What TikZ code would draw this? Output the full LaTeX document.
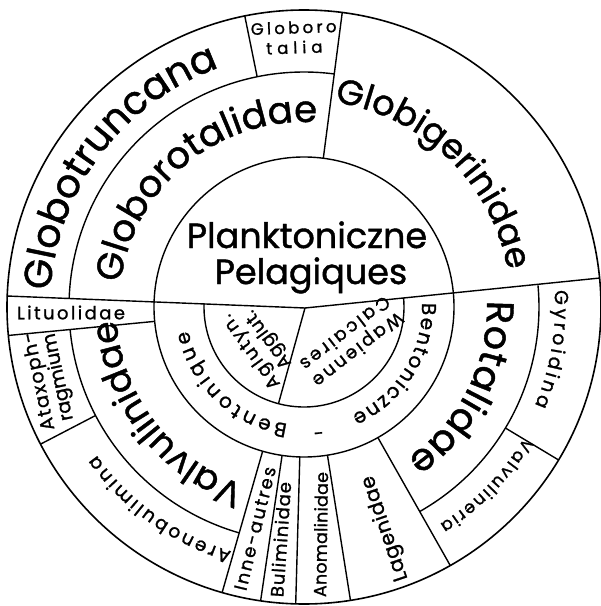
\documentclass[tikz,border=0pt]{standalone}
\usepackage{fontspec}
\setmainfont{Poppins}[FakeBold=1.2]
\usetikzlibrary{decorations.text}
\newcommand{\fsz}[1]{\fontsize{#1}{#1}\selectfont}
\newcommand{\fszl}[2]{\fontsize{#1}{#2}\selectfont}
\tikzset{
  ln/.style={line width=1.4pt, line join=round},
  lbl/.style n args={2}{decorate, decoration={text along path, text align={fit to path}, raise=#2, text={#1}}},
  plain/.style={inner sep=0pt, align=center}
}
\begin{document}
\begin{tikzpicture}[x=1pt,y=1pt]
\useasboundingbox (-304,-299) rectangle (297,307);
% structure
\coordinate (O) at (0,0);
\coordinate (K) at (1,-1);
\coordinate (DL) at (-297,11);
\coordinate (DR) at (296,29);
\draw[ln, line width=1.6pt] (O) circle[radius=297pt];
\draw[ln] (O) circle[radius=150pt];
\draw[ln] (178:100pt) arc[start angle=178, end angle=365.3, radius=100pt];
\draw[ln] (82.6:235pt) arc[start angle=82.6, end angle=178, radius=235pt];
\draw[ln] (185.5:235pt) arc[start angle=185.5, end angle=254, radius=235pt];
\draw[ln] (299.5:235pt) arc[start angle=299.5, end angle=365.3, radius=235pt];
\draw[ln] (DL) -- (K) -- (DR);
\draw[ln] (K) -- (255.2:100pt);
\draw[ln] (101.5:235pt) -- (101.5:297pt);
\draw[ln] (82.6:150pt) -- (82.6:297pt);
\draw[ln] (185.5:150pt) -- (185.5:297pt);
\draw[ln] (207.5:235pt) -- (207.5:297pt);
\draw[ln] (254:150pt) -- (254:297pt);
\draw[ln] (261.6:150pt) -- (261.6:297pt);
\draw[ln] (268.4:150pt) -- (268.4:297pt);
\draw[ln] (279:150pt) -- (279:297pt);
\draw[ln] (299.5:150pt) -- (299.5:297pt);
\draw[ln] (329:235pt) -- (329:297pt);
% curved labels
\path[lbl={|\fsz{39}|Globotruncana}{0pt}] (176.3:254pt) arc[start angle=176.3, end angle=109.7, radius=254pt];
\path[lbl={|\fsz{37}|Globorotalidae}{0pt}] (172.5:185pt) arc[start angle=172.5, end angle=86, radius=185pt];
\path[lbl={|\fsz{35}|Globigerinidae}{0pt}] (81.5:207pt) arc[start angle=81.5, end angle=11.8, radius=207pt];
\path[lbl={|\fsz{36}|Valvulinidae}{0pt}] (251.5:188pt) arc[start angle=251.5, end angle=186, radius=188pt];
\path[lbl={|\fsz{38}|Rotalidae}{0pt}] (2:183pt) arc[start angle=2, end angle=-55.7, radius=183pt];
\path[lbl={|\fsz{19}|Gyroidina}{0pt}] (3.8:251pt) arc[start angle=3.8, end angle=-23.1, radius=251pt];
\path[lbl={|\fsz{17}|Valvulineria}{0pt}] (329.3:256pt) arc[start angle=329.3, end angle=302, radius=256pt];
\path[lbl={|\fsz{18.5}|Arenobulimina}{0pt}] (253.5:255pt) arc[start angle=253.5, end angle=215.5, radius=255pt];
\path[lbl={|\fsz{20}|Bentoniczne}{0pt}] (2:118pt) arc[start angle=2, end angle=-66, radius=118pt];
\path[lbl={|\fsz{20}|Bentonique}{0pt}] (262:118pt) arc[start angle=262, end angle=191.6, radius=118pt];
% straight labels
\coordinate (lit1) at (-287,-12.3); \coordinate (lit2) at (-179,-12.3);
\path[lbl={|\fsz{18}|Lituolidae}{0pt}] (lit1) -- (lit2);
\coordinate (lag1) at (97,-274); \coordinate (lag2) at (62,-170);
\path[lbl={|\fsz{20}|Lagenidae}{-7pt}] (lag1) -- (lag2);
\coordinate (ano1) at (16,-290); \coordinate (ano2) at (18,-165);
\path[lbl={|\fsz{17.5}|Anomalinidae}{-6.1pt}] (ano1) -- (ano2);
\coordinate (bul1) at (-27,-290); \coordinate (bul2) at (-19,-175);
\path[lbl={|\fsz{18}|Buliminidae}{-6.3pt}] (bul1) -- (bul2);
\coordinate (inn1) at (-64,-283); \coordinate (inn2) at (-34,-160);
\path[lbl={|\fsz{18}|Inne-autres}{-6.3pt}] (inn1) -- (inn2);
% nodes
\node[plain, font=\fsz{35}, anchor=base] (plank) at (3,59) {Planktoniczne};
\node[plain, font=\fsz{35}, anchor=base] (pelag) at (7,23) {Pelagiques};
\node[plain, rotate=2, font=\fszl{16.5}{20}] (glob) at (-10,269.5) {\addfontfeature{LetterSpace=20}Globoro\\\addfontfeature{LetterSpace=30}talia};
\node[plain, rotate=102, font=\fszl{19}{20}] (atax) at (-254.5,-72) {\addfontfeature{LetterSpace=8}Ataxoph-\\\addfontfeature{LetterSpace=0}ragmium};
\node[plain, rotate=126, font=\fszl{18}{21}] (aglu) at (-44,-38) {\addfontfeature{LetterSpace=12}Aglutyn.\\\addfontfeature{LetterSpace=4}Agglut.};
\node[plain, rotate=218, font=\fszl{18}{21}] (wapi) at (48,-35) {\addfontfeature{LetterSpace=14}Wapienne\\\addfontfeature{LetterSpace=16}Calcaires};
\node[plain, rotate=186, font=\fsz{18}] (dash) at (276.4:124pt) {-};
\end{tikzpicture}
\end{document}
